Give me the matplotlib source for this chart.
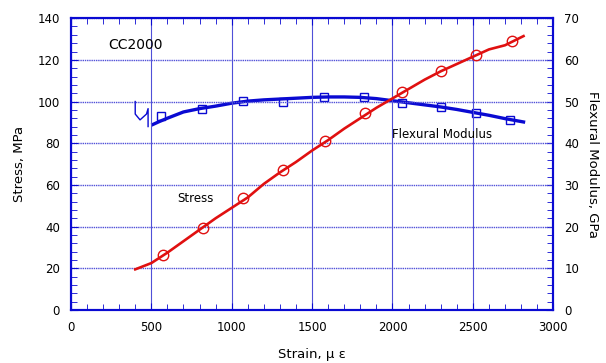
import matplotlib
matplotlib.use('Agg')
import matplotlib.pyplot as plt
from matplotlib.ticker import MultipleLocator

# stress curve (left axis, MPa)
strain_s = [400, 500, 600, 700, 800, 900, 1000, 1100, 1200, 1300, 1400, 1500, 1600,
            1700, 1800, 1900, 2000, 2100, 2200, 2300, 2400, 2500, 2600, 2700, 2815]
stress = [19.5, 22.5, 27.5, 33, 38.5, 44, 49, 54, 60.5, 66, 71, 76.5, 81.5,
          87, 92, 97, 101.5, 106, 110.5, 114.5, 118, 121.5, 125, 127, 131.4]
strain_s_mk = [573, 822, 1071, 1320, 1582, 1831, 2061, 2304, 2522, 2746]
stress_mk = [26.4, 39.3, 53.7, 67.1, 81.0, 94.4, 104.5, 114.6, 122.2, 129.0]

# flexural modulus curve (right axis, GPa)
strain_m = [510, 550, 600, 700, 800, 900, 1000, 1100, 1200, 1300, 1400, 1500, 1600,
            1700, 1800, 1900, 2000, 2100, 2200, 2300, 2400, 2500, 2600, 2700, 2815]
modulus = [44.5, 45.2, 46.0, 47.5, 48.3, 48.9, 49.6, 50.1, 50.4, 50.6, 50.8, 51.0, 51.1,
           51.1, 51.0, 50.7, 50.2, 49.7, 49.2, 48.7, 48.1, 47.4, 46.7, 45.9, 45.1]
strain_m_mk = [560, 816, 1071, 1320, 1575, 1824, 2061, 2304, 2522, 2733]
modulus_mk = [46.5, 48.2, 50.1, 49.9, 51.1, 51.1, 49.6, 48.7, 47.2, 45.6]
# initial hook before the curve settles
strain_hook = [400, 400, 430, 470, 480, 480]
modulus_hook = [50.0, 47.0, 45.6, 47.0, 48.3, 44.0]

blue = '#0a0ad2'
grid_c = '#5050d8'
red = '#e01010'

fig = plt.figure(figsize=(6.06, 3.63), dpi=100)
ax = fig.add_axes([0.117, 0.146, 0.796, 0.804])
ax2 = ax.twinx()

ax.set_xlim(0, 3000)
ax.set_ylim(0, 140)
ax2.set_ylim(0, 70)
ax.xaxis.set_major_locator(MultipleLocator(500))
ax.xaxis.set_minor_locator(MultipleLocator(100))
ax.yaxis.set_major_locator(MultipleLocator(20))
ax.yaxis.set_minor_locator(MultipleLocator(4))
ax2.yaxis.set_major_locator(MultipleLocator(10))
ax2.yaxis.set_minor_locator(MultipleLocator(2))

ax.grid(True, axis='x', color=grid_c, lw=0.8)
ax.grid(True, axis='y', color=grid_c, lw=1.0, ls=(0, (1, 0.6)))

ax2.plot(strain_hook, modulus_hook, color=blue, lw=1.0)
ax2.plot(strain_m, modulus, color=blue, lw=2.4)
ax2.plot(strain_m_mk, modulus_mk, ls='none', marker='s', ms=5.5, mfc='none', mec=blue, mew=1.0)

ax.plot(strain_s, stress, color=red, lw=1.9, zorder=3)
ax.plot(strain_s_mk, stress_mk, ls='none', marker='o', ms=7.5, mfc='none', mec=red, mew=1.0, zorder=3)
ax.set_zorder(ax2.get_zorder() + 1)
ax.patch.set_visible(False)

for a in (ax, ax2):
    for s in a.spines.values():
        s.set_color(blue)
        s.set_linewidth(1.5)
ax.tick_params(which='both', direction='in', top=True, color=blue, labelsize=8.5, pad=8)
ax.tick_params(which='major', length=5)
ax.tick_params(which='minor', length=4)
ax2.tick_params(which='both', direction='in', color=blue, labelsize=8.5, pad=8)
ax2.tick_params(which='major', length=5)
ax2.tick_params(which='minor', length=4)

ax.set_ylabel('Stress, MPa', fontsize=9.5, labelpad=8)
ax2.set_ylabel('Flexural Modulus, GPa', fontsize=9.5, rotation=-90, labelpad=14)
ax.set_xlabel('Strain, \u03bc \u03b5', fontsize=9.5, labelpad=10)

ax.text(230, 125, 'CC2000', fontsize=10)
ax.text(660, 52, 'Stress', fontsize=8.5)
ax.text(2000, 82.5, 'Flexural Modulus', fontsize=8.5)

fig.savefig('out.png', dpi=100)
